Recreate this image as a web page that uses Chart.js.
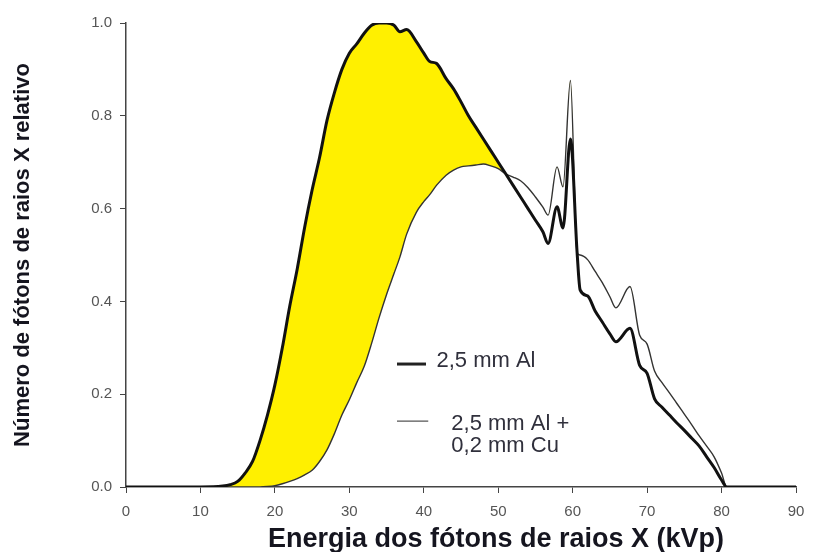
<!DOCTYPE html>
<html>
<head>
<meta charset="utf-8">
<script src="https://cdn.jsdelivr.net/npm/chart.js@4/dist/chart.umd.min.js"></script>
<style>
  html, body { margin: 0; padding: 0; background: #fff; }
  #wrap { width: 815px; height: 552px; }
</style>
</head>
<body>
<div id="wrap"><canvas id="myChart" width="815" height="552"></canvas></div>
<script>
// energia (kVp) - same x for both curves so the fill can follow them
var energia = [0, 10, 13, 14, 15, 16, 17, 18, 19, 20, 21, 22, 23, 24, 25, 26, 27, 28, 29, 30,
  31, 32, 33, 34, 35, 36, 36.8, 37.7, 39, 40, 40.8, 41.7, 43, 44, 45, 46, 47, 48, 49, 50,
  51, 52, 53, 54, 55, 56, 56.7, 57.9, 58.7, 59.7, 60.6, 61, 62, 63, 64, 65, 65.8, 67.7, 69, 70,
  71, 72, 73, 74, 75, 76, 77, 78, 79, 80, 80.7, 90];

// 2,5 mm Al (linha grossa)
var somenteAl = [0, 0, 0.002, 0.005, 0.012, 0.03, 0.055, 0.1, 0.155, 0.22, 0.3, 0.39, 0.47, 0.56, 0.64, 0.71, 0.79, 0.85, 0.9, 0.935,
  0.955, 0.978, 0.995, 1.0, 1.0, 0.995, 0.981, 0.986, 0.96, 0.935, 0.917, 0.913, 0.88, 0.858, 0.83, 0.8, 0.775, 0.75, 0.725, 0.7,
  0.675, 0.65, 0.625, 0.6, 0.575, 0.55, 0.525, 0.604, 0.558, 0.75, 0.504, 0.425, 0.412, 0.38, 0.355, 0.33, 0.313, 0.342, 0.262, 0.245,
  0.19, 0.172, 0.155, 0.138, 0.122, 0.105, 0.088, 0.065, 0.042, 0.015, 0, 0];

// 2,5 mm Al + 0,2 mm Cu (linha fina)
var alMaisCu = [0, 0, 0, 0, 0, 0, 0, 0, 0.001, 0.003, 0.007, 0.012, 0.018, 0.026, 0.036, 0.055, 0.08, 0.115, 0.155, 0.188,
  0.225, 0.26, 0.31, 0.365, 0.415, 0.46, 0.496, 0.545, 0.592, 0.615, 0.63, 0.65, 0.672, 0.683, 0.69, 0.692, 0.694, 0.696, 0.692, 0.686,
  0.675, 0.668, 0.66, 0.645, 0.625, 0.603, 0.586, 0.69, 0.647, 0.876, 0.504, 0.5, 0.49, 0.465, 0.44, 0.41, 0.386, 0.432, 0.327, 0.308,
  0.25, 0.225, 0.203, 0.18, 0.157, 0.134, 0.11, 0.088, 0.065, 0.03, 0, 0];

var xTicks = [0, 10, 20, 30, 40, 50, 60, 70, 80, 90];
var yTicks = [0, 0.2, 0.4, 0.6, 0.8, 1.0];

function pts(ys) {
  return energia.map(function (x, i) { return { x: x, y: ys[i] }; });
}

Chart.defaults.font.family = "Arial, 'Liberation Sans', sans-serif";

// legend drawn inside the plot, and the x title (it sits right of centre in the figure)
var legendaInterna = {
  id: "legendaInterna",
  afterDraw: function (chart) {
    var ctx = chart.ctx;
    var sx = chart.scales.x, sy = chart.scales.y;
    ctx.save();
    ctx.strokeStyle = "#222";
    ctx.lineWidth = 3;
    ctx.beginPath();
    ctx.moveTo(sx.getPixelForValue(36.4), sy.getPixelForValue(0.265));
    ctx.lineTo(sx.getPixelForValue(40.3), sy.getPixelForValue(0.265));
    ctx.stroke();
    ctx.strokeStyle = "#555";
    ctx.lineWidth = 1.2;
    ctx.beginPath();
    ctx.moveTo(sx.getPixelForValue(36.4), sy.getPixelForValue(0.142));
    ctx.lineTo(sx.getPixelForValue(40.6), sy.getPixelForValue(0.142));
    ctx.stroke();
    ctx.fillStyle = "#30303c";
    ctx.font = "22px Arial, 'Liberation Sans', sans-serif";
    ctx.textBaseline = "alphabetic";
    ctx.fillText("2,5 mm Al", sx.getPixelForValue(41.7), sy.getPixelForValue(0.259));
    ctx.fillText("2,5 mm Al +", sx.getPixelForValue(43.7), sy.getPixelForValue(0.123));
    ctx.fillText("0,2 mm Cu", sx.getPixelForValue(43.7), sy.getPixelForValue(0.076));

    ctx.fillStyle = "#15151f";
    ctx.font = "bold 27px Arial, 'Liberation Sans', sans-serif";
    ctx.textAlign = "center";
    ctx.fillText("Energia dos fótons de raios X (kVp)", sx.getPixelForValue(49.7), sx.bottom - 5);
    ctx.restore();
  }
};

new Chart("myChart", {
  type: "line",
  data: {
    datasets: [{
      label: "2,5 mm Al",
      data: pts(somenteAl),
      borderColor: "#111",
      borderWidth: 3,
      pointRadius: 0,
      cubicInterpolationMode: "monotone",
      fill: { target: 1, above: "#fff000", below: "rgba(0,0,0,0)" }
    }, {
      label: "2,5 mm Al + 0,2 mm Cu",
      data: pts(alMaisCu),
      borderColor: "#333",
      borderWidth: 1.4,
      pointRadius: 0,
      cubicInterpolationMode: "monotone",
      fill: false
    }]
  },
  options: {
    responsive: false,
    animation: false,
    layout: { padding: { top: 23, right: 19, left: 0, bottom: 0 } },
    plugins: {
      legend: { display: false },
      tooltip: { enabled: false },
      filler: { drawTime: "beforeDatasetsDraw" }
    },
    scales: {
      x: {
        type: "linear",
        min: 0,
        max: 90,
        afterBuildTicks: function (s) { s.ticks = xTicks.map(function (v) { return { value: v }; }); },
        afterFit: function (s) { s.height = 65; },
        border: { display: true, color: "#444", width: 1.5 },
        grid: { drawOnChartArea: false, drawTicks: true, tickLength: 6, color: "#444" },
        ticks: { color: "#555", font: { size: 15 }, padding: 10, maxRotation: 0 }
      },
      y: {
        min: 0,
        max: 1.0,
        afterBuildTicks: function (s) { s.ticks = yTicks.map(function (v) { return { value: v }; }); },
        afterFit: function (s) { s.width = 126; },
        border: { display: true, color: "#444", width: 1.5 },
        grid: { drawOnChartArea: false, drawTicks: true, tickLength: 6, color: "#444" },
        ticks: {
          color: "#555",
          font: { size: 15 },
          padding: 8,
          callback: function (v) { return v.toFixed(1); }
        },
        title: {
          display: true,
          text: "Número de fótons de raios X relativo",
          color: "#15151f",
          font: { size: 22, weight: "bold" },
          padding: { top: 10, bottom: 0 }
        }
      }
    }
  },
  plugins: [legendaInterna]
});
</script>
</body>
</html>
